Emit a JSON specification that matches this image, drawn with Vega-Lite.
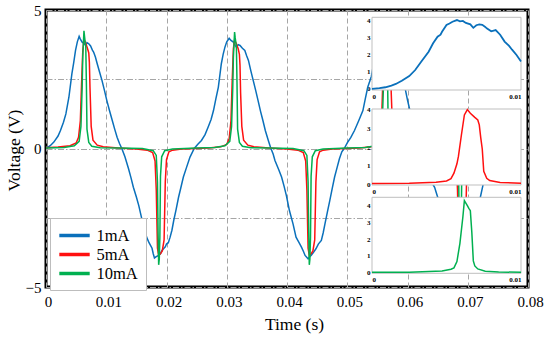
{
  "$schema": "https://vega.github.io/schema/vega-lite/v6.json",
  "width": 482,
  "height": 277,
  "autosize": "none",
  "padding": {"left": 46, "top": 10, "right": 22, "bottom": 54},
  "background": "white",
  "config": {
    "view": {"stroke": "#000000", "strokeWidth": 3},
    "font": "Liberation Serif"
  },
  "datasets": {
    "main": [
      {"t":0,"v":0,"s":"1mA"},{"t":0.0007,"v":0.1,"s":"1mA"},{"t":0.0013,"v":0.23,"s":"1mA"},{"t":0.002,"v":0.45,"s":"1mA"},{"t":0.0024,"v":0.65,"s":"1mA"},{"t":0.0029,"v":0.95,"s":"1mA"},{"t":0.0033,"v":1.25,"s":"1mA"},{"t":0.0038,"v":1.85,"s":"1mA"},{"t":0.0043,"v":2.7,"s":"1mA"},{"t":0.0046,"v":3.1,"s":"1mA"},{"t":0.0049,"v":3.54,"s":"1mA"},{"t":0.0052,"v":3.85,"s":"1mA"},{"t":0.0055,"v":4.05,"s":"1mA"},{"t":0.0057,"v":3.95,"s":"1mA"},{"t":0.006,"v":3.84,"s":"1mA"},{"t":0.0063,"v":3.8,"s":"1mA"},{"t":0.0066,"v":3.72,"s":"1mA"},{"t":0.0068,"v":3.82,"s":"1mA"},{"t":0.0071,"v":3.78,"s":"1mA"},{"t":0.0074,"v":3.7,"s":"1mA"},{"t":0.0077,"v":3.55,"s":"1mA"},{"t":0.0079,"v":3.48,"s":"1mA"},{"t":0.0082,"v":3.3,"s":"1mA"},{"t":0.0085,"v":3.06,"s":"1mA"},{"t":0.0089,"v":2.75,"s":"1mA"},{"t":0.0093,"v":2.45,"s":"1mA"},{"t":0.0097,"v":2.1,"s":"1mA"},{"t":0.0101,"v":1.73,"s":"1mA"},{"t":0.0105,"v":1.4,"s":"1mA"},{"t":0.011,"v":1.01,"s":"1mA"},{"t":0.0114,"v":0.7,"s":"1mA"},{"t":0.0118,"v":0.41,"s":"1mA"},{"t":0.0122,"v":0.18,"s":"1mA"},{"t":0.0126,"v":-0.01,"s":"1mA"},
      {"t":0.0131,"v":-0.3,"s":"1mA"},{"t":0.0137,"v":-0.73,"s":"1mA"},{"t":0.0141,"v":-1.05,"s":"1mA"},{"t":0.0145,"v":-1.4,"s":"1mA"},{"t":0.015,"v":-1.75,"s":"1mA"},{"t":0.0154,"v":-2.06,"s":"1mA"},{"t":0.0159,"v":-2.54,"s":"1mA"},{"t":0.0163,"v":-2.9,"s":"1mA"},{"t":0.0167,"v":-3.2,"s":"1mA"},{"t":0.0171,"v":-3.4,"s":"1mA"},{"t":0.0176,"v":-3.6,"s":"1mA"},{"t":0.0178,"v":-3.8,"s":"1mA"},{"t":0.018,"v":-3.95,"s":"1mA"},{"t":0.0183,"v":-3.9,"s":"1mA"},{"t":0.0187,"v":-3.86,"s":"1mA"},{"t":0.019,"v":-3.8,"s":"1mA"},{"t":0.0192,"v":-3.7,"s":"1mA"},{"t":0.0195,"v":-3.62,"s":"1mA"},{"t":0.0198,"v":-3.55,"s":"1mA"},{"t":0.02,"v":-3.45,"s":"1mA"},{"t":0.0203,"v":-3.4,"s":"1mA"},{"t":0.0206,"v":-3.2,"s":"1mA"},{"t":0.0209,"v":-2.95,"s":"1mA"},{"t":0.0212,"v":-2.6,"s":"1mA"},{"t":0.0216,"v":-2.2,"s":"1mA"},{"t":0.022,"v":-1.76,"s":"1mA"},{"t":0.0224,"v":-1.4,"s":"1mA"},{"t":0.0228,"v":-1.03,"s":"1mA"},{"t":0.0233,"v":-0.7,"s":"1mA"},{"t":0.0239,"v":-0.31,"s":"1mA"},{"t":0.0246,"v":0,"s":"1mA"},
      {"t":0.0252,"v":0.15,"s":"1mA"},{"t":0.0258,"v":0.29,"s":"1mA"},{"t":0.0264,"v":0.5,"s":"1mA"},{"t":0.0269,"v":0.77,"s":"1mA"},{"t":0.0274,"v":1.05,"s":"1mA"},{"t":0.0278,"v":1.37,"s":"1mA"},{"t":0.0282,"v":1.8,"s":"1mA"},{"t":0.0286,"v":2.21,"s":"1mA"},{"t":0.0291,"v":3.06,"s":"1mA"},{"t":0.0294,"v":3.4,"s":"1mA"},{"t":0.0297,"v":3.66,"s":"1mA"},{"t":0.03,"v":3.85,"s":"1mA"},{"t":0.0304,"v":3.98,"s":"1mA"},{"t":0.0307,"v":3.9,"s":"1mA"},{"t":0.0311,"v":3.84,"s":"1mA"},{"t":0.0314,"v":3.72,"s":"1mA"},{"t":0.0316,"v":3.66,"s":"1mA"},{"t":0.0319,"v":3.75,"s":"1mA"},{"t":0.0322,"v":3.72,"s":"1mA"},{"t":0.0326,"v":3.62,"s":"1mA"},{"t":0.033,"v":3.54,"s":"1mA"},{"t":0.0333,"v":3.35,"s":"1mA"},{"t":0.0336,"v":3.18,"s":"1mA"},{"t":0.034,"v":2.8,"s":"1mA"},{"t":0.0344,"v":2.45,"s":"1mA"},{"t":0.0348,"v":2.1,"s":"1mA"},{"t":0.0352,"v":1.73,"s":"1mA"},{"t":0.0356,"v":1.35,"s":"1mA"},{"t":0.036,"v":1.01,"s":"1mA"},{"t":0.0364,"v":0.65,"s":"1mA"},{"t":0.0369,"v":0.29,"s":"1mA"},{"t":0.0373,"v":0.02,"s":"1mA"},
      {"t":0.0377,"v":-0.2,"s":"1mA"},{"t":0.038,"v":-0.43,"s":"1mA"},{"t":0.0386,"v":-0.75,"s":"1mA"},{"t":0.0391,"v":-1.03,"s":"1mA"},{"t":0.0395,"v":-1.35,"s":"1mA"},{"t":0.0399,"v":-1.7,"s":"1mA"},{"t":0.0404,"v":-2.24,"s":"1mA"},{"t":0.041,"v":-2.72,"s":"1mA"},{"t":0.0415,"v":-3.2,"s":"1mA"},{"t":0.042,"v":-3.4,"s":"1mA"},{"t":0.0424,"v":-3.56,"s":"1mA"},{"t":0.0427,"v":-3.7,"s":"1mA"},{"t":0.043,"v":-3.86,"s":"1mA"},{"t":0.0435,"v":-3.98,"s":"1mA"},{"t":0.0438,"v":-3.9,"s":"1mA"},{"t":0.044,"v":-3.86,"s":"1mA"},{"t":0.0444,"v":-3.75,"s":"1mA"},{"t":0.0448,"v":-3.62,"s":"1mA"},{"t":0.0452,"v":-3.45,"s":"1mA"},{"t":0.0457,"v":-3.32,"s":"1mA"},{"t":0.046,"v":-3.05,"s":"1mA"},{"t":0.0463,"v":-2.72,"s":"1mA"},{"t":0.0467,"v":-2.3,"s":"1mA"},{"t":0.0471,"v":-1.88,"s":"1mA"},{"t":0.0475,"v":-1.45,"s":"1mA"},{"t":0.0479,"v":-1.03,"s":"1mA"},{"t":0.0483,"v":-0.7,"s":"1mA"},{"t":0.0487,"v":-0.37,"s":"1mA"},{"t":0.0491,"v":-0.12,"s":"1mA"},{"t":0.0495,"v":0,"s":"1mA"},
      {"t":0.05,"v":0.2,"s":"1mA"},{"t":0.0506,"v":0.4,"s":"1mA"},{"t":0.0512,"v":0.65,"s":"1mA"},{"t":0.0519,"v":1.0,"s":"1mA"},{"t":0.0526,"v":1.37,"s":"1mA"},{"t":0.053,"v":1.8,"s":"1mA"},{"t":0.0534,"v":2.21,"s":"1mA"},{"t":0.054,"v":2.6,"s":"1mA"},{"t":0.0545,"v":3.2,"s":"1mA"},{"t":0.055,"v":3.7,"s":"1mA"},{"t":0.0555,"v":4.0,"s":"1mA"},{"t":0.056,"v":3.85,"s":"1mA"},{"t":0.0566,"v":3.7,"s":"1mA"},{"t":0.0572,"v":3.75,"s":"1mA"},{"t":0.058,"v":3.5,"s":"1mA"},{"t":0.0586,"v":3.15,"s":"1mA"},{"t":0.0593,"v":2.5,"s":"1mA"},{"t":0.06,"v":1.75,"s":"1mA"},{"t":0.0608,"v":1.0,"s":"1mA"},{"t":0.0616,"v":0.3,"s":"1mA"},{"t":0.062,"v":0,"s":"1mA"},
      {"t":0.0627,"v":-0.45,"s":"1mA"},{"t":0.0636,"v":-1.05,"s":"1mA"},{"t":0.0645,"v":-1.4,"s":"1mA"},{"t":0.065,"v":-1.75,"s":"1mA"},{"t":0.0655,"v":-2.25,"s":"1mA"},{"t":0.066,"v":-2.75,"s":"1mA"},{"t":0.0665,"v":-3.2,"s":"1mA"},{"t":0.0674,"v":-3.56,"s":"1mA"},{"t":0.0685,"v":-3.95,"s":"1mA"},{"t":0.069,"v":-3.86,"s":"1mA"},{"t":0.0698,"v":-3.62,"s":"1mA"},{"t":0.0707,"v":-3.32,"s":"1mA"},{"t":0.0713,"v":-2.72,"s":"1mA"},{"t":0.072,"v":-1.85,"s":"1mA"},{"t":0.0726,"v":-1.25,"s":"1mA"},{"t":0.0732,"v":-0.6,"s":"1mA"},{"t":0.0738,"v":-0.25,"s":"1mA"},{"t":0.0745,"v":0,"s":"1mA"},

      {"t":0,"v":0.03,"s":"5mA"},{"t":0.002,"v":0.05,"s":"5mA"},{"t":0.004,"v":0.1,"s":"5mA"},{"t":0.005,"v":0.2,"s":"5mA"},{"t":0.0054,"v":0.4,"s":"5mA"},{"t":0.0057,"v":1.0,"s":"5mA"},{"t":0.0059,"v":2.3,"s":"5mA"},{"t":0.0061,"v":3.5,"s":"5mA"},{"t":0.0063,"v":3.95,"s":"5mA"},{"t":0.0066,"v":3.8,"s":"5mA"},{"t":0.0069,"v":3.6,"s":"5mA"},{"t":0.0071,"v":3.45,"s":"5mA"},{"t":0.0072,"v":3.1,"s":"5mA"},{"t":0.0073,"v":2.2,"s":"5mA"},{"t":0.0075,"v":0.8,"s":"5mA"},{"t":0.0078,"v":0.3,"s":"5mA"},{"t":0.0085,"v":0.12,"s":"5mA"},{"t":0.0095,"v":0.06,"s":"5mA"},{"t":0.012,"v":0.02,"s":"5mA"},{"t":0.015,"v":-0.02,"s":"5mA"},{"t":0.0168,"v":-0.06,"s":"5mA"},{"t":0.0177,"v":-0.15,"s":"5mA"},{"t":0.0181,"v":-0.45,"s":"5mA"},{"t":0.0183,"v":-1.5,"s":"5mA"},{"t":0.0185,"v":-3.6,"s":"5mA"},{"t":0.0187,"v":-3.86,"s":"5mA"},{"t":0.019,"v":-3.8,"s":"5mA"},{"t":0.0193,"v":-3.7,"s":"5mA"},{"t":0.0196,"v":-3.3,"s":"5mA"},{"t":0.0198,"v":-1.2,"s":"5mA"},{"t":0.02,"v":-0.4,"s":"5mA"},{"t":0.0204,"v":-0.12,"s":"5mA"},{"t":0.021,"v":-0.06,"s":"5mA"},{"t":0.0225,"v":-0.02,"s":"5mA"},
      {"t":0.027,"v":0.02,"s":"5mA"},{"t":0.029,"v":0.06,"s":"5mA"},{"t":0.03,"v":0.15,"s":"5mA"},{"t":0.0304,"v":0.35,"s":"5mA"},{"t":0.0307,"v":1.0,"s":"5mA"},{"t":0.0309,"v":2.4,"s":"5mA"},{"t":0.0311,"v":3.6,"s":"5mA"},{"t":0.0313,"v":3.92,"s":"5mA"},{"t":0.0316,"v":3.78,"s":"5mA"},{"t":0.0319,"v":3.6,"s":"5mA"},{"t":0.0321,"v":3.4,"s":"5mA"},{"t":0.0322,"v":3.0,"s":"5mA"},{"t":0.0323,"v":2.0,"s":"5mA"},{"t":0.0325,"v":0.8,"s":"5mA"},{"t":0.0328,"v":0.3,"s":"5mA"},{"t":0.0335,"v":0.12,"s":"5mA"},{"t":0.0345,"v":0.06,"s":"5mA"},{"t":0.037,"v":0.02,"s":"5mA"},{"t":0.04,"v":-0.02,"s":"5mA"},{"t":0.0418,"v":-0.06,"s":"5mA"},{"t":0.0427,"v":-0.15,"s":"5mA"},{"t":0.0431,"v":-0.45,"s":"5mA"},{"t":0.0433,"v":-1.5,"s":"5mA"},{"t":0.0435,"v":-3.6,"s":"5mA"},{"t":0.0437,"v":-3.86,"s":"5mA"},{"t":0.044,"v":-3.8,"s":"5mA"},{"t":0.0443,"v":-3.7,"s":"5mA"},{"t":0.0446,"v":-3.3,"s":"5mA"},{"t":0.0448,"v":-1.2,"s":"5mA"},{"t":0.045,"v":-0.4,"s":"5mA"},{"t":0.0454,"v":-0.12,"s":"5mA"},{"t":0.046,"v":-0.06,"s":"5mA"},{"t":0.0475,"v":-0.02,"s":"5mA"},
      {"t":0.052,"v":0.02,"s":"5mA"},{"t":0.054,"v":0.06,"s":"5mA"},{"t":0.055,"v":0.15,"s":"5mA"},{"t":0.0554,"v":0.35,"s":"5mA"},{"t":0.0557,"v":1.0,"s":"5mA"},{"t":0.0559,"v":2.4,"s":"5mA"},{"t":0.0561,"v":3.6,"s":"5mA"},{"t":0.0563,"v":3.92,"s":"5mA"},{"t":0.0566,"v":3.78,"s":"5mA"},{"t":0.0569,"v":3.6,"s":"5mA"},{"t":0.0571,"v":3.4,"s":"5mA"},{"t":0.0572,"v":3.0,"s":"5mA"},{"t":0.0573,"v":2.0,"s":"5mA"},{"t":0.0575,"v":0.8,"s":"5mA"},{"t":0.0578,"v":0.3,"s":"5mA"},{"t":0.0585,"v":0.12,"s":"5mA"},{"t":0.0595,"v":0.06,"s":"5mA"},{"t":0.062,"v":0.02,"s":"5mA"},{"t":0.065,"v":-0.02,"s":"5mA"},{"t":0.0668,"v":-0.06,"s":"5mA"},{"t":0.0677,"v":-0.15,"s":"5mA"},{"t":0.0681,"v":-0.45,"s":"5mA"},{"t":0.0683,"v":-1.5,"s":"5mA"},{"t":0.0685,"v":-3.6,"s":"5mA"},{"t":0.0687,"v":-3.86,"s":"5mA"},{"t":0.069,"v":-3.8,"s":"5mA"},{"t":0.0693,"v":-3.7,"s":"5mA"},{"t":0.0696,"v":-3.3,"s":"5mA"},{"t":0.0698,"v":-1.2,"s":"5mA"},{"t":0.07,"v":-0.4,"s":"5mA"},{"t":0.0704,"v":-0.12,"s":"5mA"},{"t":0.071,"v":-0.06,"s":"5mA"},{"t":0.0725,"v":-0.02,"s":"5mA"},{"t":0.075,"v":0,"s":"5mA"},

      {"t":0,"v":0.02,"s":"10mA"},{"t":0.003,"v":0.04,"s":"10mA"},{"t":0.0047,"v":0.1,"s":"10mA"},{"t":0.0055,"v":0.26,"s":"10mA"},{"t":0.0058,"v":0.8,"s":"10mA"},{"t":0.006,"v":2.2,"s":"10mA"},{"t":0.0061,"v":3.3,"s":"10mA"},{"t":0.0063,"v":4.25,"s":"10mA"},{"t":0.0064,"v":4.04,"s":"10mA"},{"t":0.0065,"v":3.84,"s":"10mA"},{"t":0.0066,"v":3.7,"s":"10mA"},{"t":0.0067,"v":2.4,"s":"10mA"},{"t":0.0068,"v":0.7,"s":"10mA"},{"t":0.0071,"v":0.22,"s":"10mA"},{"t":0.0076,"v":0.08,"s":"10mA"},{"t":0.009,"v":0.03,"s":"10mA"},{"t":0.012,"v":0.02,"s":"10mA"},{"t":0.016,"v":0,"s":"10mA"},{"t":0.0178,"v":-0.08,"s":"10mA"},{"t":0.0183,"v":-0.25,"s":"10mA"},{"t":0.0185,"v":-1.2,"s":"10mA"},{"t":0.0186,"v":-3.0,"s":"10mA"},{"t":0.0187,"v":-4.2,"s":"10mA"},{"t":0.0188,"v":-4.0,"s":"10mA"},{"t":0.0189,"v":-3.2,"s":"10mA"},{"t":0.019,"v":-1.0,"s":"10mA"},{"t":0.0192,"v":-0.3,"s":"10mA"},{"t":0.0197,"v":-0.08,"s":"10mA"},{"t":0.021,"v":-0.02,"s":"10mA"},
      {"t":0.025,"v":0.02,"s":"10mA"},{"t":0.028,"v":0.04,"s":"10mA"},{"t":0.0297,"v":0.1,"s":"10mA"},{"t":0.0305,"v":0.26,"s":"10mA"},{"t":0.0308,"v":0.8,"s":"10mA"},{"t":0.031,"v":2.2,"s":"10mA"},{"t":0.0311,"v":3.3,"s":"10mA"},{"t":0.0313,"v":4.2,"s":"10mA"},{"t":0.0314,"v":4.0,"s":"10mA"},{"t":0.0315,"v":3.84,"s":"10mA"},{"t":0.0316,"v":3.7,"s":"10mA"},{"t":0.0317,"v":2.4,"s":"10mA"},{"t":0.0318,"v":0.7,"s":"10mA"},{"t":0.0321,"v":0.22,"s":"10mA"},{"t":0.0326,"v":0.08,"s":"10mA"},{"t":0.034,"v":0.03,"s":"10mA"},{"t":0.037,"v":0.02,"s":"10mA"},{"t":0.041,"v":0,"s":"10mA"},{"t":0.0428,"v":-0.08,"s":"10mA"},{"t":0.0433,"v":-0.25,"s":"10mA"},{"t":0.0435,"v":-1.2,"s":"10mA"},{"t":0.0436,"v":-3.0,"s":"10mA"},{"t":0.0437,"v":-4.2,"s":"10mA"},{"t":0.0438,"v":-4.0,"s":"10mA"},{"t":0.0439,"v":-3.2,"s":"10mA"},{"t":0.044,"v":-1.0,"s":"10mA"},{"t":0.0442,"v":-0.3,"s":"10mA"},{"t":0.0447,"v":-0.08,"s":"10mA"},{"t":0.046,"v":-0.02,"s":"10mA"},
      {"t":0.05,"v":0.02,"s":"10mA"},{"t":0.053,"v":0.04,"s":"10mA"},{"t":0.0547,"v":0.1,"s":"10mA"},{"t":0.0555,"v":0.26,"s":"10mA"},{"t":0.0558,"v":0.8,"s":"10mA"},{"t":0.056,"v":2.2,"s":"10mA"},{"t":0.0561,"v":3.3,"s":"10mA"},{"t":0.0563,"v":4.2,"s":"10mA"},{"t":0.0564,"v":4.0,"s":"10mA"},{"t":0.0565,"v":3.84,"s":"10mA"},{"t":0.0566,"v":3.7,"s":"10mA"},{"t":0.0567,"v":2.4,"s":"10mA"},{"t":0.0568,"v":0.7,"s":"10mA"},{"t":0.0571,"v":0.22,"s":"10mA"},{"t":0.0576,"v":0.08,"s":"10mA"},{"t":0.059,"v":0.03,"s":"10mA"},{"t":0.062,"v":0.02,"s":"10mA"},{"t":0.066,"v":0,"s":"10mA"},{"t":0.0678,"v":-0.08,"s":"10mA"},{"t":0.0683,"v":-0.25,"s":"10mA"},{"t":0.0685,"v":-1.2,"s":"10mA"},{"t":0.0686,"v":-3.0,"s":"10mA"},{"t":0.0687,"v":-4.2,"s":"10mA"},{"t":0.0688,"v":-4.0,"s":"10mA"},{"t":0.0689,"v":-3.2,"s":"10mA"},{"t":0.069,"v":-1.0,"s":"10mA"},{"t":0.0692,"v":-0.3,"s":"10mA"},{"t":0.0697,"v":-0.08,"s":"10mA"},{"t":0.071,"v":-0.02,"s":"10mA"},{"t":0.075,"v":0,"s":"10mA"}
    ],
    "inset1": [
      {"t":0,"v":0},{"t":0.0005,"v":0.05},{"t":0.0009,"v":0.1},{"t":0.0013,"v":0.2},{"t":0.0016,"v":0.29},{"t":0.002,"v":0.48},{"t":0.0025,"v":0.75},{"t":0.0029,"v":1.1},{"t":0.0033,"v":1.58},{"t":0.0038,"v":2.16},{"t":0.0041,"v":2.65},{"t":0.0044,"v":3.03},{"t":0.0046,"v":3.15},{"t":0.0047,"v":3.32},{"t":0.005,"v":3.71},{"t":0.0052,"v":3.8},{"t":0.0054,"v":3.9},{"t":0.0057,"v":4.0},{"t":0.0059,"v":3.92},{"t":0.0061,"v":3.95},{"t":0.0063,"v":3.83},{"t":0.0066,"v":3.75},{"t":0.0068,"v":3.55},{"t":0.007,"v":3.7},{"t":0.0072,"v":3.75},{"t":0.0074,"v":3.72},{"t":0.0076,"v":3.6},{"t":0.0077,"v":3.52},{"t":0.008,"v":3.35},{"t":0.0083,"v":3.42},{"t":0.0086,"v":3.15},{"t":0.0089,"v":2.75},{"t":0.0092,"v":2.5},{"t":0.0094,"v":2.28},{"t":0.0097,"v":1.97},{"t":0.01,"v":1.6}
    ],
    "inset2": [
      {"t":0,"v":0.04},{"t":0.0025,"v":0.06},{"t":0.0043,"v":0.11},{"t":0.005,"v":0.18},{"t":0.0053,"v":0.3},{"t":0.0055,"v":0.6},{"t":0.0057,"v":1.1},{"t":0.0058,"v":1.5},{"t":0.006,"v":2.65},{"t":0.0062,"v":3.73},{"t":0.0064,"v":4.02},{"t":0.0066,"v":3.82},{"t":0.0069,"v":3.6},{"t":0.0071,"v":3.46},{"t":0.0072,"v":3.2},{"t":0.0073,"v":2.5},{"t":0.0074,"v":1.9},{"t":0.0075,"v":0.7},{"t":0.0077,"v":0.32},{"t":0.0079,"v":0.2},{"t":0.0086,"v":0.1},{"t":0.01,"v":0.05}
    ],
    "inset3": [
      {"t":0,"v":0.02},{"t":0.0025,"v":0.03},{"t":0.0047,"v":0.1},{"t":0.0053,"v":0.2},{"t":0.0055,"v":0.28},{"t":0.0057,"v":0.66},{"t":0.0059,"v":1.75},{"t":0.0061,"v":3.34},{"t":0.0062,"v":4.3},{"t":0.0063,"v":4.15},{"t":0.0064,"v":4.0},{"t":0.0065,"v":3.84},{"t":0.0066,"v":3.7},{"t":0.0067,"v":2.4},{"t":0.0068,"v":0.7},{"t":0.0069,"v":0.4},{"t":0.0071,"v":0.22},{"t":0.0076,"v":0.08},{"t":0.0085,"v":0.04},{"t":0.01,"v":0.02}
    ]
  },
  "layer": [
    {
      "data": {"name": "main"},
      "mark": {"type": "line", "strokeWidth": 1.5, "clip": true},
      "encoding": {
        "x": {
          "field": "t", "type": "quantitative",
          "scale": {"domain": [0, 0.08], "nice": false, "zero": false},
          "axis": {
            "values": [0, 0.01, 0.02, 0.03, 0.04, 0.05, 0.06, 0.07, 0.08],
            "format": "~g", "title": "Time (s)",
            "domain": false, "ticks": false, "grid": true,
            "gridColor": "#a6a6a6", "gridDash": [5, 3], "gridWidth": 1,
            "labelFont": "Liberation Serif", "labelFontSize": 15, "labelColor": "#000000",
            "labelPadding": 7, "labelOffset": 2, "labelFlush": false,
            "titleFont": "Liberation Serif", "titleFontSize": 17.5, "titleFontWeight": "normal", "titleColor": "#000000",
            "titlePadding": 6, "titleX": 248
          }
        },
        "y": {
          "field": "v", "type": "quantitative",
          "scale": {"domain": [-5, 5], "nice": false},
          "axis": {
            "values": [-5, -2.5, 0, 2.5, 5],
            "labelExpr": "datum.value % 5 == 0 ? datum.label : ''",
            "title": "Voltage (V)",
            "domain": false, "ticks": false, "grid": true,
            "gridColor": "#a6a6a6", "gridDash": [6, 2, 1.5, 2], "gridWidth": 1,
            "labelFont": "Liberation Serif", "labelFontSize": 15, "labelColor": "#000000",
            "labelPadding": 5, "labelFlush": false,
            "titleFont": "Liberation Serif", "titleFontSize": 17.5, "titleFontWeight": "normal", "titleColor": "#000000",
            "titleX": -27, "titleY": 140, "titleAngle": 270, "titleBaseline": "alphabetic", "titleAlign": "center"
          }
        },
        "color": {
          "field": "s", "type": "nominal",
          "scale": {"domain": ["1mA", "5mA", "10mA"], "range": ["#0a70bb", "#ff1010", "#00b050"]},
          "legend": {
            "title": null, "orient": "none", "legendX": 4, "legendY": 208,
            "fillColor": "#ffffff", "strokeColor": "#bdbdbd", "padding": 7.5,
            "symbolType": "M-1.9,0H1.9", "symbolSize": 256, "symbolStrokeWidth": 3.5, "symbolOffset": 7,
            "labelFont": "Liberation Serif", "labelFontSize": 16.5, "labelColor": "#000000",
            "labelOffset": 12, "rowPadding": 0
          }
        }
      }
    },
    {
      "layer": [
        {
          "data": {"values": [{}]},
          "mark": {"type": "rect", "fill": "#ffffff", "stroke": "#bfbfbf", "strokeWidth": 1},
          "encoding": {
            "x": {"datum": 0, "type": "quantitative", "scale": {"domain": [0, 0.01], "range": [326, 475], "nice": false, "zero": false},
              "axis": {"orient": "bottom", "offset": -197, "values": [0, 0.01], "format": "~g", "labelFlush": true, "domain": false, "ticks": false, "grid": false, "title": null, "labelFont": "Liberation Serif", "labelFontSize": 7, "labelFontWeight": "bold", "labelColor": "#000000", "labelPadding": 2}},
            "x2": {"datum": 0.01},
            "y": {"datum": -0.06, "type": "quantitative", "scale": {"domain": [-0.06, 4.16], "range": [80, 7.3], "nice": false, "zero": false},
              "axis": {"orient": "left", "offset": -326, "values": [0, 1, 2, 3, 4], "format": "~g", "domain": false, "ticks": false, "grid": false, "title": null, "labelFont": "Liberation Serif", "labelFontSize": 7, "labelFontWeight": "bold", "labelColor": "#000000", "labelPadding": 2}},
            "y2": {"datum": 4.16}
          }
        },
        {
          "data": {"name": "inset1"},
          "mark": {"type": "line", "color": "#0a70bb", "strokeWidth": 1.8},
          "encoding": {
            "x": {"field": "t", "type": "quantitative"},
            "y": {"field": "v", "type": "quantitative"}
          }
        }
      ]
    },
    {
      "layer": [
        {
          "data": {"values": [{}]},
          "mark": {"type": "rect", "fill": "#ffffff", "stroke": "#bfbfbf", "strokeWidth": 1},
          "encoding": {
            "x": {"datum": 0, "type": "quantitative", "scale": {"domain": [0, 0.01], "range": [326, 475], "nice": false, "zero": false},
              "axis": {"orient": "bottom", "offset": -102, "values": [0, 0.01], "format": "~g", "labelFlush": true, "domain": false, "ticks": false, "grid": false, "title": null, "labelFont": "Liberation Serif", "labelFontSize": 7, "labelFontWeight": "bold", "labelColor": "#000000", "labelPadding": 2}},
            "x2": {"datum": 0.01},
            "y": {"datum": -0.04, "type": "quantitative", "scale": {"domain": [-0.04, 4.05], "range": [175, 99], "nice": false, "zero": false},
              "axis": {"orient": "left", "offset": -326, "values": [0, 1, 2, 3, 4], "format": "~g", "domain": false, "ticks": false, "grid": false, "title": null, "labelFont": "Liberation Serif", "labelFontSize": 7, "labelFontWeight": "bold", "labelColor": "#000000", "labelPadding": 2}},
            "y2": {"datum": 4.05}
          }
        },
        {
          "data": {"name": "inset2"},
          "mark": {"type": "line", "color": "#ff1010", "strokeWidth": 1.5},
          "encoding": {
            "x": {"field": "t", "type": "quantitative"},
            "y": {"field": "v", "type": "quantitative"}
          }
        }
      ]
    },
    {
      "layer": [
        {
          "data": {"values": [{}]},
          "mark": {"type": "rect", "fill": "#ffffff", "stroke": "#bfbfbf", "strokeWidth": 1},
          "encoding": {
            "x": {"datum": 0, "type": "quantitative", "scale": {"domain": [0, 0.01], "range": [326, 475], "nice": false, "zero": false},
              "axis": {"orient": "bottom", "offset": -13.7, "values": [0, 0.01], "format": "~g", "labelFlush": true, "domain": false, "ticks": false, "grid": false, "title": null, "labelFont": "Liberation Serif", "labelFontSize": 7, "labelFontWeight": "bold", "labelColor": "#000000", "labelPadding": 2}},
            "x2": {"datum": 0.01},
            "y": {"datum": -0.04, "type": "quantitative", "scale": {"domain": [-0.04, 4.5], "range": [263.3, 187.3], "nice": false, "zero": false},
              "axis": {"orient": "left", "offset": -326, "values": [0, 1, 2, 3, 4], "format": "~g", "domain": false, "ticks": false, "grid": false, "title": null, "labelFont": "Liberation Serif", "labelFontSize": 7, "labelFontWeight": "bold", "labelColor": "#000000", "labelPadding": 2}},
            "y2": {"datum": 4.5}
          }
        },
        {
          "data": {"name": "inset3"},
          "mark": {"type": "line", "color": "#00b050", "strokeWidth": 1.5},
          "encoding": {
            "x": {"field": "t", "type": "quantitative"},
            "y": {"field": "v", "type": "quantitative"}
          }
        }
      ]
    }
  ],
  "resolve": {
    "scale": {"x": "independent", "y": "independent"},
    "axis": {"x": "independent", "y": "independent"}
  }
}
